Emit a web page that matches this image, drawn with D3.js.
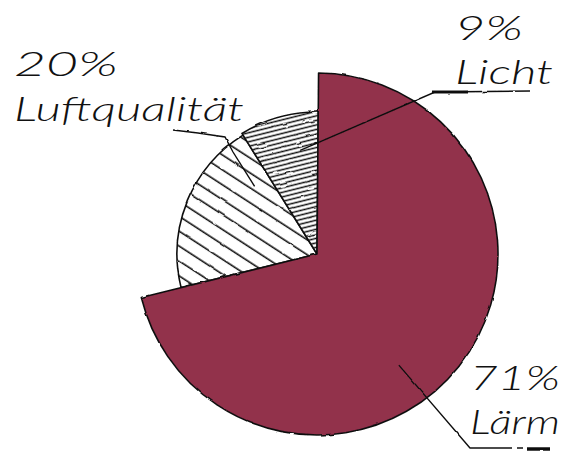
<!DOCTYPE html>
<html>
<head>
  <meta charset="utf-8">
  <script src="https://d3js.org/d3.v7.min.js"></script>
  <style>
    body { margin: 0; background: #fff; }
    .slice { stroke: #111; stroke-width: 1.6px; stroke-linejoin: round; }
    .leader { fill: none; stroke: #111; stroke-width: 1.4px; }
    .lbl { font-family: "Lato", "DejaVu Sans", sans-serif; font-style: italic; font-weight: 300; fill: #111; }
  </style>
</head>
<body>
  <div id="chart"></div>
  <script>
    // data
    var categories = ["Lärm", "Luftqualität", "Licht"];
    var values = [71, 20, 9];
    var percentLabels = ["71%", "20%", "9%"];

    var width = 573, height = 454;
    var cx = 317, cy = 254;

    var svg = d3.select("#chart").append("svg")
      .attr("width", width)
      .attr("height", height);

    var defs = svg.append("defs");

    // rough hand drawn look
    var rough = defs.append("filter").attr("id", "rough")
      .attr("x", "-5%").attr("y", "-5%").attr("width", "110%").attr("height", "110%");
    rough.append("feTurbulence").attr("type", "fractalNoise")
      .attr("baseFrequency", 0.08).attr("numOctaves", 2).attr("seed", 3).attr("result", "noise");
    rough.append("feDisplacementMap").attr("in", "SourceGraphic").attr("in2", "noise")
      .attr("scale", 2.2).attr("xChannelSelector", "R").attr("yChannelSelector", "G");

    // hatch patterns
    var p1 = defs.append("pattern").attr("id", "hatchWide")
      .attr("patternUnits", "userSpaceOnUse")
      .attr("width", 12).attr("height", 12.5)
      .attr("patternTransform", "rotate(33)");
    p1.append("rect").attr("width", 12).attr("height", 12.5).attr("fill", "#fff");
    p1.append("line").attr("x1", 0).attr("y1", 6).attr("x2", 12).attr("y2", 6)
      .attr("stroke", "#111").attr("stroke-width", 1.6);

    var p2 = defs.append("pattern").attr("id", "hatchFine")
      .attr("patternUnits", "userSpaceOnUse")
      .attr("width", 8).attr("height", 4.4)
      .attr("patternTransform", "rotate(-14)");
    p2.append("rect").attr("width", 8).attr("height", 4.4).attr("fill", "#fff");
    p2.append("line").attr("x1", 0).attr("y1", 2.2).attr("x2", 8).attr("y2", 2.2)
      .attr("stroke", "#111").attr("stroke-width", 1.5);

    var fills = ["#92304c", "url(#hatchWide)", "url(#hatchFine)"];
    var radius = [181, 140, 142];

    var start = 0.5 * Math.PI / 180;
    var pie = d3.pie().sort(null).startAngle(start).endAngle(start + 2 * Math.PI);
    var arcs = pie(values);

    var g = svg.append("g").attr("transform", "translate(" + cx + "," + cy + ")")
      .attr("filter", "url(#rough)");

    // draw small slices first, then the big one on top
    var order = [1, 2, 0];
    g.selectAll("path.slice")
      .data(order.map(function (i) { return arcs[i]; }))
      .enter().append("path")
      .attr("class", "slice")
      .attr("fill", function (d) { return fills[d.index]; })
      .attr("d", function (d) {
        return d3.arc().innerRadius(0).outerRadius(radius[d.index])(d);
      });

    // leader lines: start inside each slice, run to the label
    function inner(d, frac, r) {
      var a = d.startAngle + frac * (d.endAngle - d.startAngle);
      var p = d3.pointRadial(a, r);
      return [cx + p[0], cy + p[1]];
    }
    var leaders = [
      [inner(arcs[0], 0.56, 138), [470, 448], [512, 448]],
      [inner(arcs[1], 0.85, 92), [233, 152], [225, 137], [198, 133], [173, 130]],
      [inner(arcs[2], 0.7, 105), [435, 92], [530, 91]]
    ];
    var line = d3.line();
    var lg = svg.append("g").attr("filter", "url(#rough)");
    lg.selectAll("path.leader").data(leaders).enter().append("path")
      .attr("class", "leader")
      .attr("d", line);
    // thick ends of the leaders
    lg.append("line").attr("x1", 432).attr("y1", 92).attr("x2", 468).attr("y2", 92)
      .attr("stroke", "#111").attr("stroke-width", 3);
    lg.append("line").attr("x1", 517).attr("y1", 448).attr("x2", 523).attr("y2", 448)
      .attr("stroke", "#111").attr("stroke-width", 1.5);
    lg.append("line").attr("x1", 527).attr("y1", 449).attr("x2", 550).attr("y2", 449)
      .attr("stroke", "#111").attr("stroke-width", 3.5);

    // labels
    var labelPos = [
      {x: 470, y1: 390, y2: 434, w1: 90, w2: 90},
      {x: 14, y1: 76, y2: 121, w1: 104, w2: 230},
      {x: 455, y1: 40, y2: 84, w1: 68, w2: 98}
    ];
    var tg = svg.append("g");
    arcs.forEach(function (d, i) {
      var p = labelPos[i];
      tg.append("text").attr("class", "lbl")
        .attr("x", p.x).attr("y", p.y1)
        .attr("font-size", 34)
        .attr("textLength", p.w1).attr("lengthAdjust", "spacingAndGlyphs")
        .text(percentLabels[i]);
      tg.append("text").attr("class", "lbl")
        .attr("x", p.x).attr("y", p.y2)
        .attr("font-size", 34)
        .attr("textLength", p.w2).attr("lengthAdjust", "spacingAndGlyphs")
        .text(categories[i]);
    });
  </script>
</body>
</html>
